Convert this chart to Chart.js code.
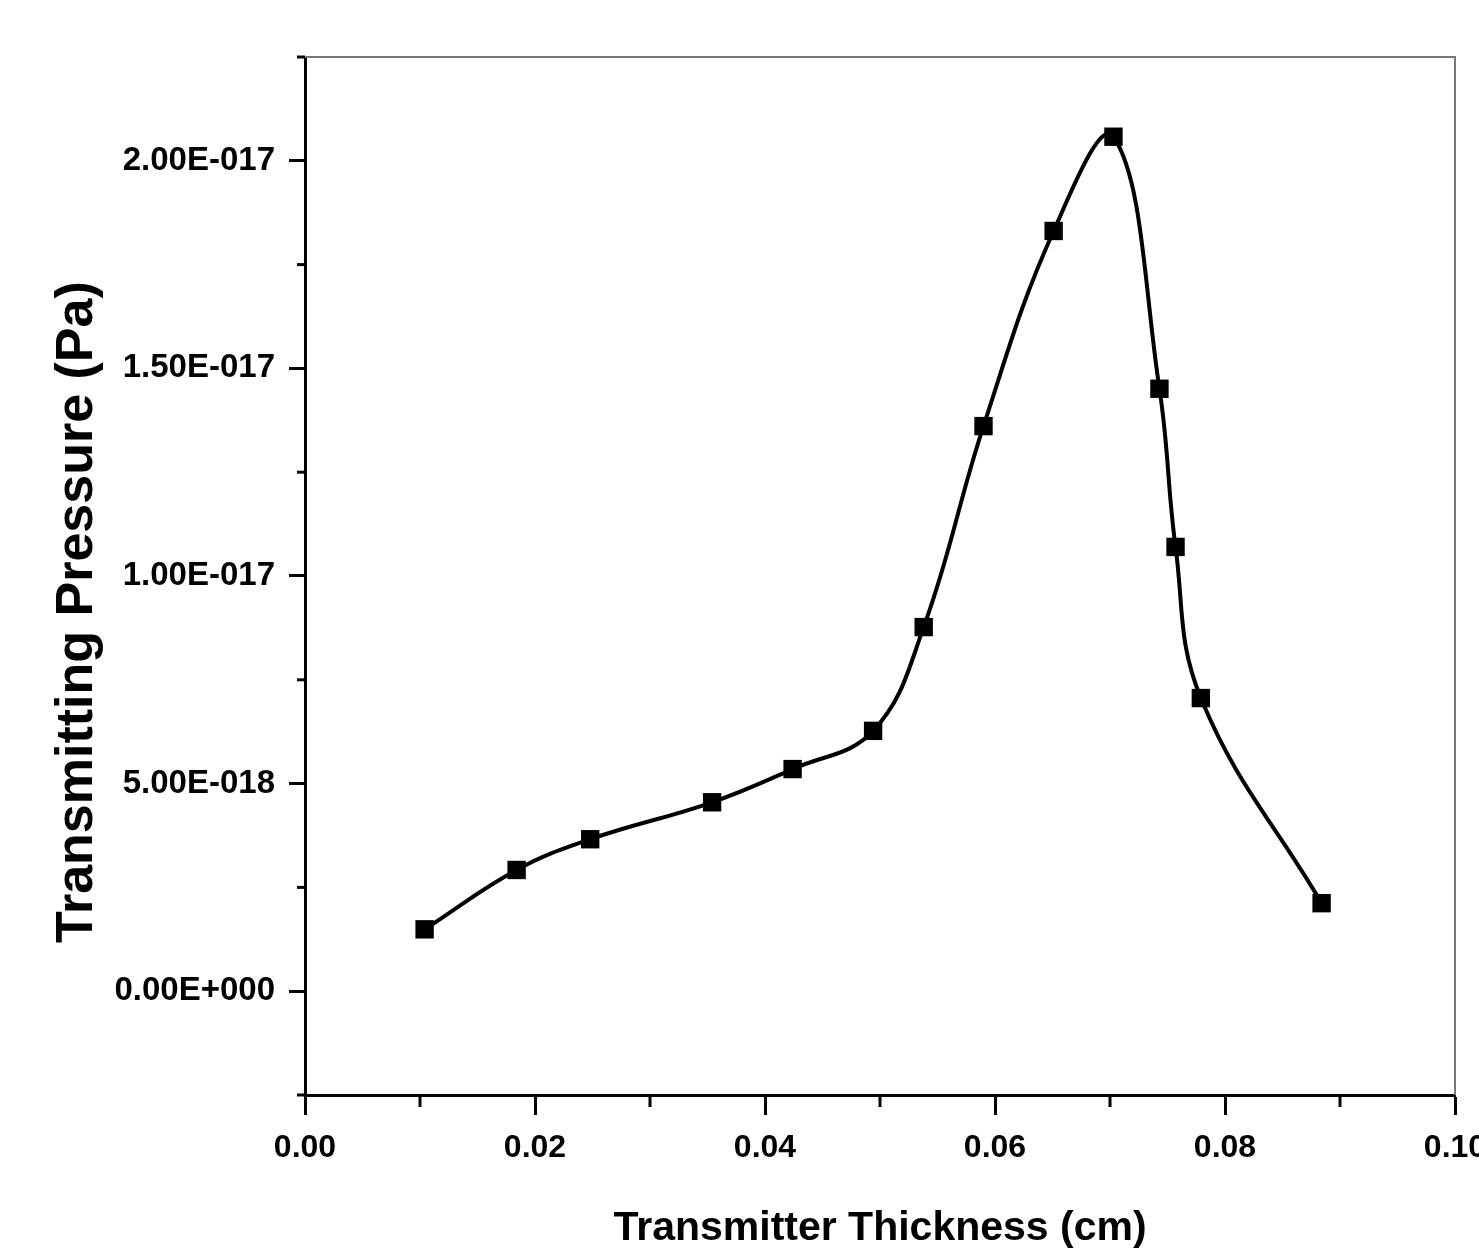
<!DOCTYPE html>
<html>
<head>
<meta charset="utf-8">
<script src="https://cdn.jsdelivr.net/npm/chart.js@4.4.1/dist/chart.umd.min.js"></script>
<style>
  body { margin: 0; background: #fff; }
  canvas { display: block; }
</style>
</head>
<body>
<canvas id="myChart" width="1479" height="1257"></canvas>
<script>
// values
const thickness = [0.0104, 0.0184, 0.0248, 0.0354, 0.0424, 0.0494, 0.0538, 0.0590, 0.0651, 0.0703, 0.0743, 0.0757, 0.0779, 0.0884]
const pressure = [1.49e-18, 2.92e-18, 3.66e-18, 4.55e-18, 5.35e-18, 6.27e-18, 8.77e-18, 1.361e-17, 1.831e-17, 2.058e-17, 1.451e-17, 1.070e-17, 7.06e-18, 2.12e-18]

// tick labels
const xTicks = [0, 0.02, 0.04, 0.06, 0.08, 0.10]
const xLabels = ['0.00', '0.02', '0.04', '0.06', '0.08', '0.10']
const yTicks = [0, 5e-18, 1e-17, 1.5e-17, 2e-17]
const yLabels = ['0.00E+000', '5.00E-018', '1.00E-017', '1.50E-017', '2.00E-017']
const xMinor = [0.01, 0.03, 0.05, 0.07, 0.09]
const yMinor = [-2.5e-18, 2.5e-18, 7.5e-18, 1.25e-17, 1.75e-17, 2.25e-17]

const fam = "'Liberation Sans', Arial, sans-serif"

const points = thickness.map((t, i) => ({ x: t, y: pressure[i] }))

// minor ticks + top/right frame
const extras = {
  id: 'extras',
  afterDraw(chart) {
    const ctx = chart.ctx
    const a = chart.chartArea
    const xs = chart.scales.x, ys = chart.scales.y
    ctx.save()
    ctx.strokeStyle = '#000'
    ctx.lineWidth = 3
    xMinor.forEach(v => {
      const px = xs.getPixelForValue(v)
      ctx.beginPath(); ctx.moveTo(px, a.bottom); ctx.lineTo(px, a.bottom + 12); ctx.stroke()
    })
    yMinor.forEach(v => {
      const py = ys.getPixelForValue(v)
      ctx.beginPath(); ctx.moveTo(a.left, py); ctx.lineTo(a.left - 8, py); ctx.stroke()
    })
    ctx.strokeStyle = '#777'
    ctx.lineWidth = 2
    ctx.beginPath()
    ctx.moveTo(a.left, a.top); ctx.lineTo(a.right, a.top); ctx.lineTo(a.right, a.bottom)
    ctx.stroke()
    ctx.restore()
  }
}

new Chart(document.getElementById('myChart'), {
  type: 'line',
  data: {
    datasets: [{
      data: points,
      borderColor: '#000',
      backgroundColor: '#000',
      borderWidth: 4,
      tension: 0.4,
      pointStyle: 'rect',
      pointRadius: 13,
      pointBorderWidth: 0,
      fill: false
    }]
  },
  options: {
    responsive: false,
    animation: false,
    layout: { padding: { top: 57, right: 24, left: 0, bottom: 0 } },
    plugins: { legend: { display: false }, tooltip: { enabled: false } },
    scales: {
      x: {
        type: 'linear',
        min: 0,
        max: 0.10,
        afterBuildTicks: s => { s.ticks = xTicks.map(v => ({ value: v })) },
        afterFit: s => { s.height = 162; s.paddingLeft = 0; s.paddingRight = 0 },
        ticks: {
          color: '#000',
          padding: 14,
          maxRotation: 0,
          font: { family: fam, size: 32, weight: 'bold' },
          callback: (v, i) => xLabels[i]
        },
        grid: { drawOnChartArea: false, drawTicks: true, tickLength: 20, tickColor: '#000', tickWidth: 3 },
        border: { color: '#000', width: 3 },
        title: {
          display: true,
          text: 'Transmitter Thickness (cm)',
          color: '#000',
          font: { family: fam, size: 41, weight: 'bold' },
          padding: { top: 0, bottom: 4 }
        }
      },
      y: {
        min: -2.5e-18,
        max: 2.25e-17,
        afterBuildTicks: s => { s.ticks = yTicks.map(v => ({ value: v })) },
        afterFit: s => { s.width = 305; s.paddingTop = 0; s.paddingBottom = 0 },
        ticks: {
          color: '#000',
          padding: 14,
          font: { family: fam, size: 33, weight: 'bold' },
          callback: (v, i) => yLabels[i]
        },
        grid: { drawOnChartArea: false, drawTicks: true, tickLength: 16, tickColor: '#000', tickWidth: 3 },
        border: { color: '#000', width: 3 },
        title: {
          display: true,
          // trailing spaces push the centred title down to where the original sits
          text: 'Transmitting Pressure (Pa)     ',
          color: '#000',
          font: { family: fam, size: 52, weight: 'bold' },
          padding: { top: 46, bottom: 0 }
        }
      }
    }
  },
  plugins: [extras]
})
</script>
</body>
</html>
